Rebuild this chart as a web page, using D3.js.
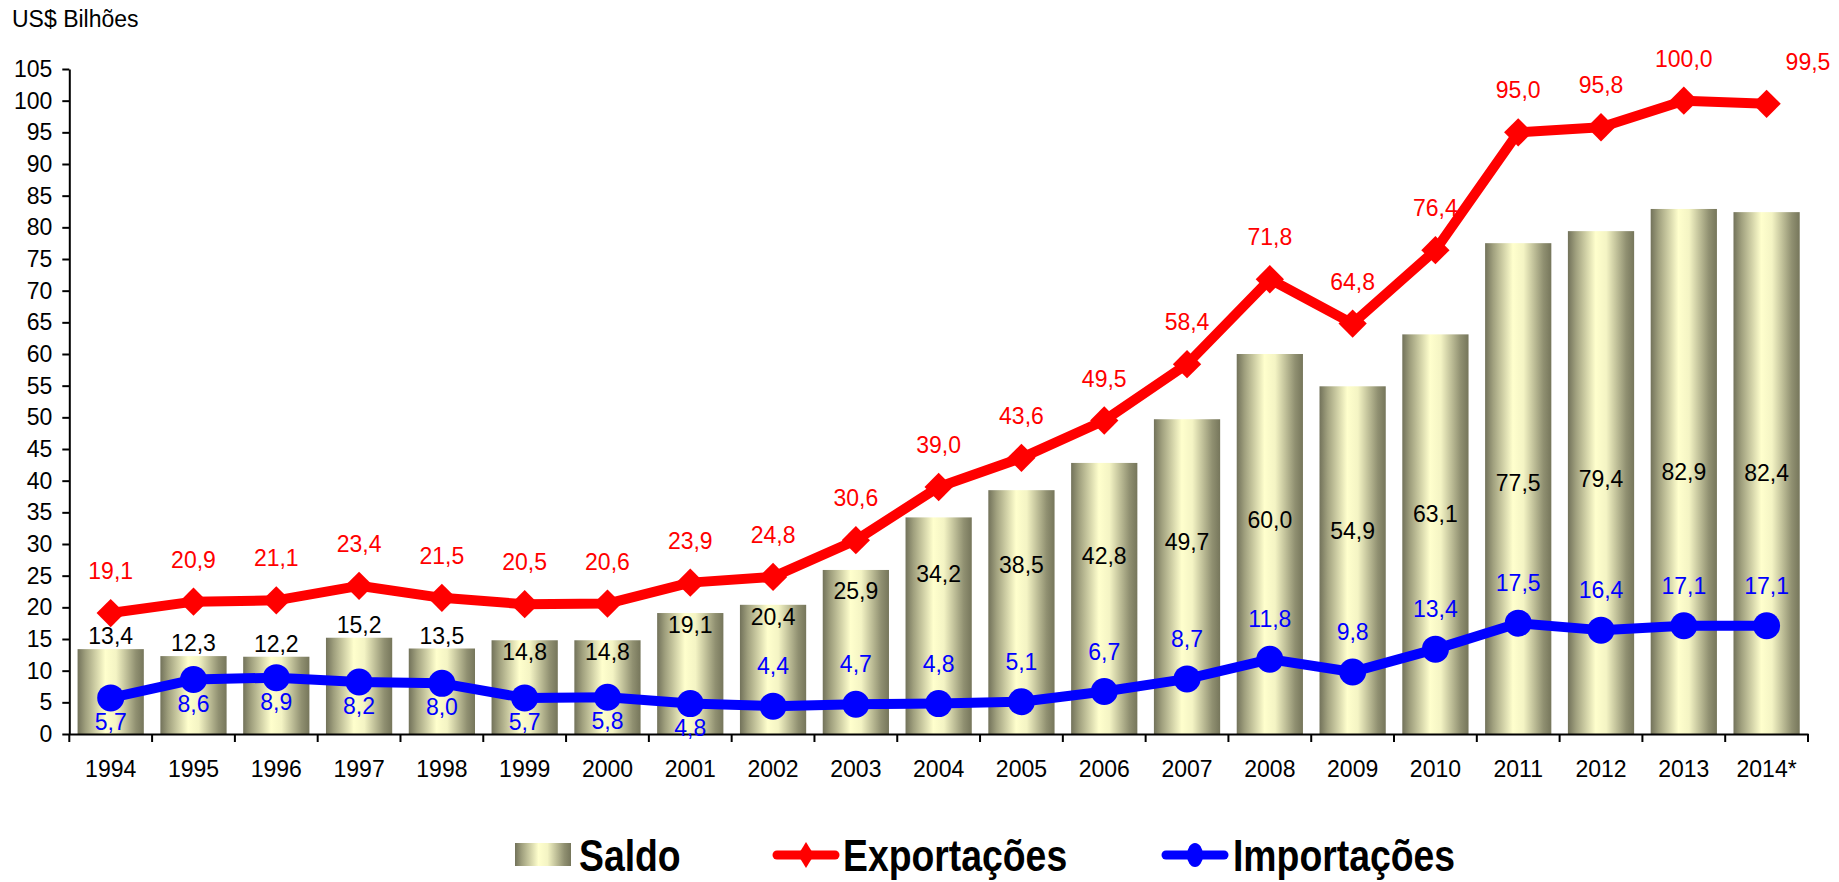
<!DOCTYPE html>
<html>
<head>
<meta charset="utf-8">
<script src="https://cdn.jsdelivr.net/npm/d3@7"></script>
<style>
  html, body { margin: 0; padding: 0; background: #ffffff; }
  svg { display: block; font-family: "Liberation Sans", Arial, sans-serif; }
</style>
</head>
<body>
<svg id="chart" width="1839" height="882"></svg>
<script>
// Balança comercial – valores anuais em US$ bilhões
const years = ["1994","1995","1996","1997","1998","1999","2000","2001","2002","2003","2004",
               "2005","2006","2007","2008","2009","2010","2011","2012","2013","2014*"];
const saldo = [13.4, 12.3, 12.2, 15.2, 13.5, 14.8, 14.8, 19.1, 20.4, 25.9, 34.2,
               38.5, 42.8, 49.7, 60.0, 54.9, 63.1, 77.5, 79.4, 82.9, 82.4];
const exportacoes = [19.1, 20.9, 21.1, 23.4, 21.5, 20.5, 20.6, 23.9, 24.8, 30.6, 39.0,
                     43.6, 49.5, 58.4, 71.8, 64.8, 76.4, 95.0, 95.8, 100.0, 99.5];
const importacoes = [5.7, 8.6, 8.9, 8.2, 8.0, 5.7, 5.8, 4.8, 4.4, 4.7, 4.8,
                     5.1, 6.7, 8.7, 11.8, 9.8, 13.4, 17.5, 16.4, 17.1, 17.1];
const yTicks = [0, 5, 10, 15, 20, 25, 30, 35, 40, 45, 50, 55, 60, 65, 70, 75, 80, 85, 90, 95, 100, 105];
const seriesNames = ["Saldo", "Exportações", "Importações"];
const unitLabel = "US$ Bilhões";

const RED = "#ff0000", BLUE = "#0000ff";
const FS = 23;

const svg = d3.select("#chart");
const plotLeft = 69.3, plotRight = 1808, plotTop = 69, plotBottom = 734;

const fmt = d3.formatLocale({ decimal: ",", thousands: ".", grouping: [3], currency: ["", ""] }).format(".1f");

const x = d3.scaleBand().domain(years).range([plotLeft, plotRight]).padding(0);
const xBar = d3.scaleBand().domain(years).range([plotLeft, plotRight]).paddingInner(0.2).paddingOuter(0.1);
const y = d3.scaleLinear().domain([0, 105]).range([plotBottom, plotTop]);
const cx = d => x(d) + x.bandwidth() / 2;

// bar gradient (cylinder look)
const defs = svg.append("defs");
const grad = defs.append("linearGradient").attr("id", "barGrad")
  .attr("x1", "0%").attr("x2", "100%").attr("y1", "0%").attr("y2", "0%");
grad.append("stop").attr("offset", "0%").attr("stop-color", "#72725a");
grad.append("stop").attr("offset", "12%").attr("stop-color", "#a0a07e");
grad.append("stop").attr("offset", "42%").attr("stop-color", "#ffffcd");
grad.append("stop").attr("offset", "58%").attr("stop-color", "#f4f4c4");
grad.append("stop").attr("offset", "88%").attr("stop-color", "#909071");
grad.append("stop").attr("offset", "100%").attr("stop-color", "#76765b");

// unit title
svg.append("text").attr("x", 12).attr("y", 27).attr("font-size", FS).attr("fill", "#000")
  .text(unitLabel);

// bars
svg.append("g").selectAll("rect").data(years).join("rect")
  .attr("x", d => xBar(d))
  .attr("width", xBar.bandwidth())
  .attr("y", (d, i) => y(saldo[i]))
  .attr("height", (d, i) => y(0) - y(saldo[i]))
  .attr("fill", "url(#barGrad)");

// y axis
const yAxis = svg.append("g").attr("transform", `translate(${plotLeft},0)`)
  .call(d3.axisLeft(y).tickValues(yTicks).tickFormat(d3.format("d")).tickSize(7).tickSizeOuter(0).tickPadding(10));
yAxis.selectAll("text").attr("font-size", FS).attr("fill", "#000").attr("font-family", null);
yAxis.selectAll("line, path").attr("stroke", "#000").attr("stroke-width", 2);

// x axis: labels centred, ticks on category boundaries
const xAxis = svg.append("g").attr("transform", `translate(0,${plotBottom})`)
  .call(d3.axisBottom(x).tickSize(0).tickSizeOuter(0).tickPadding(27));
xAxis.selectAll("text").attr("font-size", FS).attr("fill", "#000").attr("font-family", null);
xAxis.select("path.domain").attr("stroke", "#000").attr("stroke-width", 2);
const bounds = years.map(d => x(d)).concat([plotRight]);
svg.append("g").selectAll("line").data(bounds).join("line")
  .attr("x1", d => d).attr("x2", d => d)
  .attr("y1", plotBottom).attr("y2", plotBottom + 8)
  .attr("stroke", "#000").attr("stroke-width", 2);

// lines
const line = d3.line().x((d, i) => cx(years[i])).y(d => y(d));
svg.append("path").datum(exportacoes).attr("d", line)
  .attr("fill", "none").attr("stroke", RED).attr("stroke-width", 10).attr("stroke-linejoin", "round");
const diamond = d3.symbol(d3.symbolSquare, 400);
svg.append("g").selectAll("path").data(exportacoes).join("path")
  .attr("d", diamond)
  .attr("transform", (d, i) => `translate(${cx(years[i])},${y(d)}) rotate(45)`)
  .attr("fill", RED);

svg.append("path").datum(importacoes).attr("d", line)
  .attr("fill", "none").attr("stroke", BLUE).attr("stroke-width", 10).attr("stroke-linejoin", "round");
svg.append("g").selectAll("circle").data(importacoes).join("circle")
  .attr("cx", (d, i) => cx(years[i])).attr("cy", d => y(d)).attr("r", 13.5)
  .attr("fill", BLUE);

// data labels
const labels = svg.append("g").attr("font-size", FS);

// balance: above short early bars, inside taller bars
labels.selectAll("text.saldo").data(saldo).join("text").attr("class", "saldo")
  .attr("x", (d, i) => cx(years[i]))
  .attr("y", (d, i) => {
    const t = y(d);
    if (i < 5) return t - 13;
    return Math.max(t + 12, y(0.33 * d + 14));
  })
  .attr("dy", "0.35em").attr("text-anchor", "middle").attr("fill", "#000")
  .text(d => fmt(d));

// exports: above the markers; the last one set off to the right
labels.selectAll("text.exp").data(exportacoes).join("text").attr("class", "exp")
  .attr("x", (d, i) => i === exportacoes.length - 1 ? cx(years[i]) + 19 : cx(years[i]))
  .attr("y", d => y(d) - 42)
  .attr("dy", "0.35em")
  .attr("text-anchor", (d, i) => i === exportacoes.length - 1 ? "start" : "middle")
  .attr("fill", RED)
  .text(d => fmt(d));

// imports: below the markers up to 2001, above afterwards
labels.selectAll("text.imp").data(importacoes).join("text").attr("class", "imp")
  .attr("x", (d, i) => cx(years[i]))
  .attr("y", (d, i) => +years[i].slice(0, 4) <= 2001 ? y(d) + 24 : y(d) - 40)
  .attr("dy", "0.35em").attr("text-anchor", "middle").attr("fill", BLUE)
  .text(d => fmt(d));

// legend
const lg = svg.append("g");
const LY = 855, TB = 871, LFS = 45, SX = 0.83;
lg.append("rect").attr("x", 515).attr("y", 843).attr("width", 56).attr("height", 23).attr("fill", "url(#barGrad)");
const legText = (xp, s) => lg.append("text")
  .attr("transform", `translate(${xp},${TB}) scale(${SX},1)`)
  .attr("font-size", LFS).attr("font-weight", "bold").attr("fill", "#000").text(s);
legText(579, seriesNames[0]);

lg.append("line").attr("x1", 777).attr("x2", 835).attr("y1", LY).attr("y2", LY)
  .attr("stroke", RED).attr("stroke-width", 9).attr("stroke-linecap", "round");
lg.append("path").attr("d", `M806,${LY - 13} L814,${LY} L806,${LY + 13} L798,${LY} Z`).attr("fill", RED);
legText(843, seriesNames[1]);

lg.append("line").attr("x1", 1166).attr("x2", 1224).attr("y1", LY).attr("y2", LY)
  .attr("stroke", BLUE).attr("stroke-width", 9).attr("stroke-linecap", "round");
lg.append("ellipse").attr("cx", 1195).attr("cy", LY).attr("rx", 8).attr("ry", 12).attr("fill", BLUE);
legText(1233, seriesNames[2]);
</script>
</body>
</html>
